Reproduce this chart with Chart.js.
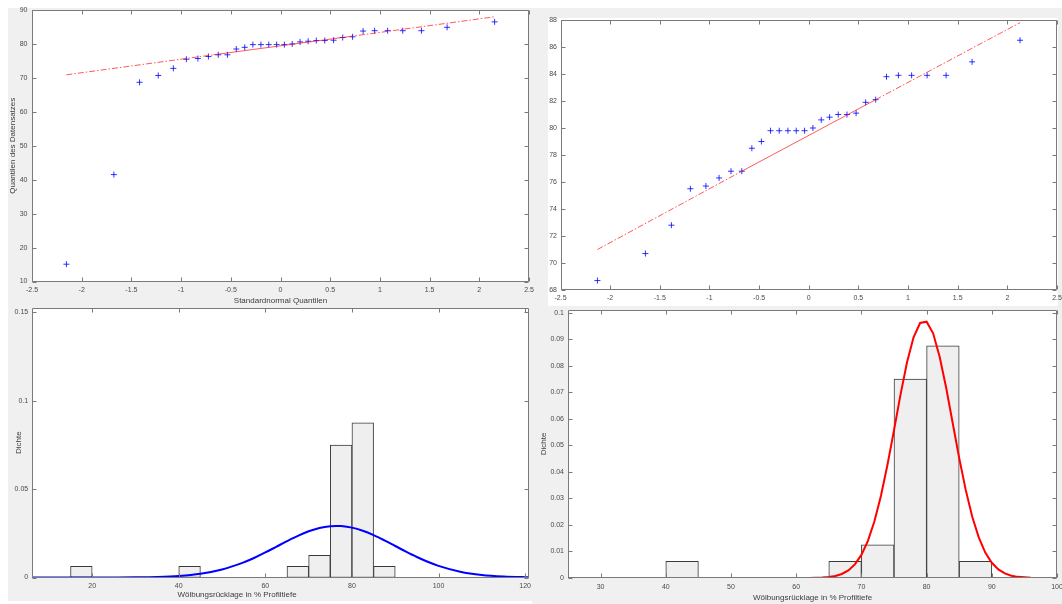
<!DOCTYPE html>
<html>
<head>
<meta charset="utf-8">
<script src="https://cdn.jsdelivr.net/npm/chart.js@4.4.1/dist/chart.umd.min.js"></script>
<style>
  html, body { margin: 0; padding: 0; background: #fff; }
  #page { position: relative; width: 1062px; height: 604px; overflow: hidden; background: #fff; }
  .bg { position: absolute; }
  canvas { position: absolute; }
</style>
</head>
<body>
<div id="page">
  <div class="bg" style="left:8px;top:8px;width:524px;height:593px;background:#f0f0f0"></div>
  <div class="bg" style="left:532px;top:8px;width:530px;height:596px;background:#f0f0f0"></div>
  <div class="bg" style="left:548px;top:18px;width:510px;height:288px;background:#fff"></div>
  <canvas id="qq1" width="540" height="310" style="left:0;top:0"></canvas>
  <canvas id="qq2" width="522" height="305" style="left:540px;top:0"></canvas>
  <canvas id="hist1" width="540" height="304" style="left:0;top:300px"></canvas>
  <canvas id="hist2" width="530" height="304" style="left:532px;top:300px"></canvas>
</div>
<script>
// --- data ---

// sorted sample values (without the two low outliers)
const coreVals = [68.7, 70.7, 72.8, 75.5, 75.7, 76.3, 76.8, 76.8, 78.5, 79.0,
  79.8, 79.8, 79.8, 79.8, 79.8, 80.0, 80.6, 80.8, 81.0, 81.0,
  81.1, 81.9, 82.1, 83.8, 83.9, 83.9, 83.9, 83.9, 84.9, 86.5];
const allVals = [15.1, 41.5, ...coreVals];

// standard normal quantiles on the x axis of the qq plots
const qqX32 = [-2.154, -1.676, -1.418, -1.230, -1.078, -0.947, -0.831, -0.725,
  -0.626, -0.534, -0.445, -0.360, -0.278, -0.197, -0.118, -0.039,
  0.039, 0.118, 0.197, 0.278, 0.360, 0.445, 0.534, 0.626,
  0.725, 0.831, 0.947, 1.078, 1.230, 1.418, 1.676, 2.154];
const qqX30 = [-2.128, -1.645, -1.383, -1.192, -1.036, -0.903, -0.783, -0.674,
  -0.573, -0.477, -0.385, -0.297, -0.210, -0.126, -0.042, 0.042,
  0.126, 0.210, 0.297, 0.385, 0.477, 0.573, 0.674, 0.783,
  0.903, 1.036, 1.192, 1.383, 1.645, 2.128];

// reference lines (outer parts dash-dot, middle part solid)
const refX1 = [-2.154, -0.674, 0.674, 2.154];
const refY1 = [70.9, 76.8, 82.1, 88.0];
const refX2 = [-2.128, -0.674, 0.674, 2.128];
const refY2 = [71.0, 76.8, 82.1, 87.8];

// histogram bins (centres, bin width 5) and densities
const binMid1 = [17.5, 42.5, 67.5, 72.5, 77.5, 82.5, 87.5];
const binDen1 = [0.00625, 0.00625, 0.00625, 0.0125, 0.075, 0.0875, 0.00625];
const binMid2 = [42.5, 67.5, 72.5, 77.5, 82.5, 87.5];
const binDen2 = [0.00625, 0.00625, 0.0125, 0.075, 0.0875, 0.00625];

// fitted density curves
const fitX1 = [6.1, 10, 15, 20, 25, 30, 35, 40, 45, 50, 55, 57.5, 60, 62.5, 65, 67.5,
  70, 72.5, 75, 76.4, 77.5, 80, 82.5, 85, 87.5, 90, 92.5, 95, 97.5, 100,
  105, 110, 115, 120, 120.9];
const fitY1 = [0, 0, 0.000001, 0.000006, 0.000025, 0.00009, 0.00029, 0.00083, 0.00207,
  0.00449, 0.00853, 0.01118, 0.01417, 0.01736, 0.02057, 0.02358, 0.02614, 0.02802,
  0.02904, 0.0292, 0.02911, 0.02822, 0.02646, 0.02399, 0.02103, 0.01783, 0.01462,
  0.01159, 0.00889, 0.00659, 0.00328, 0.00143, 0.00054, 0.00018, 0.00015];
const fitX2 = [25, 30, 40, 50, 60, 62, 64, 65, 66, 67, 68, 69, 70, 71, 72, 73, 74, 75,
  76, 77, 78, 79, 80, 81, 82, 83, 84, 85, 86, 87, 88, 89, 90, 91, 92, 93, 94,
  96, 98, 100];
const fitY2 = [0, 0, 0, 0, 0, 0.00003, 0.00017, 0.00037, 0.00077, 0.00152, 0.00286,
  0.00512, 0.00869, 0.0140, 0.0214, 0.0310, 0.0427, 0.0557, 0.0691, 0.0813, 0.0907,
  0.0961, 0.0966, 0.0922, 0.0834, 0.0717, 0.0584, 0.0452, 0.0332, 0.0231, 0.0153,
  0.0096, 0.00572, 0.00323, 0.00173, 0.00088, 0.00043, 0.00009, 0.00001, 0];

// tick labels
const qqXTicks = [-2.5, -2, -1.5, -1, -0.5, 0, 0.5, 1, 1.5, 2, 2.5];
const qq1YTicks = [10, 20, 30, 40, 50, 60, 70, 80, 90];
const qq2YTicks = [68, 70, 72, 74, 76, 78, 80, 82, 84, 86, 88];
const h1XTicks = [20, 40, 60, 80, 100, 120];
const h1YTicks = [0, 0.05, 0.1, 0.15];
const h2XTicks = [30, 40, 50, 60, 70, 80, 90, 100];
const h2YTicks = [0, 0.01, 0.02, 0.03, 0.04, 0.05, 0.06, 0.07, 0.08, 0.09, 0.1];

// --- drawing ---

const FONT = '"Liberation Sans", Arial, Helvetica, sans-serif';
const AXIS = '#7a7a7a';
const TXT = '#4a4a4a';

const zip = (xs, ys) => xs.map((x, i) => ({ x, y: ys[i] }));

// white plot area, box and inward ticks like MATLAB
const matlabAxes = {
  id: 'matlabAxes',
  beforeDraw(chart) {
    const a = chart.chartArea, ctx = chart.ctx;
    ctx.save();
    ctx.fillStyle = '#fff';
    ctx.fillRect(a.left, a.top, a.width, a.height);
    ctx.restore();
  },
  afterDatasetsDraw(chart) {
    const { ctx, chartArea: a, scales: { x, y } } = chart;
    const tl = 4;
    const L = Math.round(a.left) + 0.5, R = Math.round(a.right) - 0.5;
    const T = Math.round(a.top) + 0.5, B = Math.round(a.bottom) - 0.5;
    ctx.save();
    ctx.strokeStyle = AXIS;
    ctx.lineWidth = 1;
    ctx.beginPath();
    x.ticks.forEach((t) => {
      const px = Math.round(x.getPixelForValue(t.value)) + 0.5;
      ctx.moveTo(px, B); ctx.lineTo(px, B - tl);
      ctx.moveTo(px, T); ctx.lineTo(px, T + tl);
    });
    y.ticks.forEach((t) => {
      const py = Math.round(y.getPixelForValue(t.value)) + 0.5;
      ctx.moveTo(L, py); ctx.lineTo(L + tl, py);
      ctx.moveTo(R, py); ctx.lineTo(R - tl, py);
    });
    ctx.rect(L, T, R - L, B - T);
    ctx.stroke();
    ctx.restore();
  },
  afterDraw(chart) {
    const f = chart.options.plugins.freeLabel;
    if (!f || !f.text) return;
    const ctx = chart.ctx;
    ctx.save();
    ctx.font = '8px ' + FONT;
    ctx.fillStyle = '#3c3c3c';
    ctx.textAlign = 'center';
    ctx.textBaseline = 'middle';
    ctx.fillText(f.text, f.x, f.y);
    ctx.restore();
  },
};

function axisTitle(text, pad) {
  if (!text) return { display: false };
  return { display: true, text, color: '#3c3c3c', font: { family: FONT, size: 8 }, padding: pad };
}

function makeScales(o) {
  const tickFont = { family: FONT, size: 7 };
  return {
    x: {
      type: 'linear', min: o.xMin, max: o.xMax, offset: false,
      grid: { display: false, drawTicks: false }, border: { display: false },
      ticks: { font: tickFont, color: TXT, padding: o.xPad, maxRotation: 0, autoSkip: false, callback: (v) => String(v) },
      afterBuildTicks: (s) => { s.ticks = o.xTicks.map((v) => ({ value: v })); },
      afterFit: (s) => { s.height = o.xH; s.paddingLeft = 0; s.paddingRight = 0; },
      title: axisTitle(o.xTitle, { top: 0, bottom: o.xTitlePad }),
    },
    y: {
      type: 'linear', min: o.yMin, max: o.yMax,
      grid: { display: false, drawTicks: false }, border: { display: false },
      ticks: { font: tickFont, color: TXT, padding: o.yPad, autoSkip: false, callback: (v) => String(v) },
      afterBuildTicks: (s) => { s.ticks = o.yTicks.map((v) => ({ value: v })); },
      afterFit: (s) => { s.width = o.yW; s.paddingTop = 0; s.paddingBottom = 0; },
      title: axisTitle(o.yTitle, { top: o.yTitlePad, bottom: 0 }),
    },
  };
}

function baseOptions(o) {
  return {
    responsive: false,
    animation: false,
    events: [],
    layout: { padding: { left: 0, top: o.pt, right: o.pr, bottom: 0 } },
    scales: makeScales(o),
    plugins: { legend: { display: false }, tooltip: { enabled: false }, freeLabel: o.freeLabel || {} },
  };
}

function qqChart(id, xs, ys, rx, ry, o) {
  return new Chart(document.getElementById(id), {
    type: 'scatter',
    data: {
      datasets: [
        {
          type: 'line',
          data: zip(rx, ry),
          borderColor: 'rgba(255,0,0,0.65)',
          borderWidth: 1,
          pointRadius: 0,
          tension: 0,
          segment: { borderDash: (c) => (c.p0DataIndex === 1 ? undefined : [6, 2, 1.5, 2]) },
          order: 0,
        },
        {
          data: zip(xs, ys),
          pointStyle: 'cross',
          pointRadius: 3,
          borderColor: 'rgba(0,0,255,0.8)',
          borderWidth: 1,
          showLine: false,
          order: 1,
        },
      ],
    },
    options: baseOptions(o),
    plugins: [matlabAxes],
  });
}

function histChart(id, mids, dens, fx, fy, color, smooth, o) {
  return new Chart(document.getElementById(id), {
    type: 'bar',
    data: {
      datasets: [
        {
          type: 'line',
          data: zip(fx, fy),
          borderColor: color,
          borderWidth: 2,
          pointRadius: 0,
          cubicInterpolationMode: smooth ? 'monotone' : 'default',
          tension: 0,
          order: 0,
        },
        {
          type: 'bar',
          data: zip(mids, dens),
          backgroundColor: '#efefef',
          borderColor: '#3a3a3a',
          borderWidth: 1,
          borderSkipped: false,
          barPercentage: 1,
          categoryPercentage: 1,
          order: 1,
        },
      ],
    },
    options: baseOptions(o),
    plugins: [matlabAxes],
  });
}

qqChart('qq1', qqX32, allVals, refX1, refY1, {
  xMin: -2.5, xMax: 2.5, xTicks: qqXTicks, yMin: 10, yMax: 90, yTicks: qq1YTicks,
  pt: 10, pr: 11, yW: 32, xH: 28.5, yPad: 4.5, xPad: 4.3,
  xTitle: 'Standardnormal Quantilen', xTitlePad: 4.2,
  yTitle: 'Quantilen des Datensatzes', yTitlePad: 8.2,
});

qqChart('qq2', qqX30, coreVals, refX2, refY2, {
  xMin: -2.5, xMax: 2.5, xTicks: qqXTicks, yMin: 68, yMax: 88, yTicks: qq2YTicks,
  pt: 20, pr: 5, yW: 20.5, xH: 15, yPad: 3.5, xPad: 3.5,
});

histChart('hist1', binMid1, binDen1, fitX1, fitY1, '#0000ff', true, {
  xMin: 6.1, xMax: 120.9, xTicks: h1XTicks, yMin: 0, yMax: 0.1525, yTicks: h1YTicks,
  pt: 8, pr: 11, yW: 32, xH: 26.5, yPad: 3.8, xPad: 4.3,
  yTitle: 'Dichte', yTitlePad: 14.2,
  freeLabel: { text: 'Wölbungsrücklage in % Profiltiefe', x: 237, y: 294.3 },
});

histChart('hist2', binMid2, binDen2, fitX2, fitY2, '#ff0000', false, {
  xMin: 25, xMax: 100, xTicks: h2XTicks, yMin: 0, yMax: 0.101, yTicks: h2YTicks,
  pt: 10, pr: 5, yW: 36, xH: 26, yPad: 4, xPad: 4.5,
  xTitle: 'Wölbungsrücklage in % Profiltiefe', xTitlePad: 1.5,
  yTitle: 'Dichte', yTitlePad: 6.8,
});
</script>
</body>
</html>
